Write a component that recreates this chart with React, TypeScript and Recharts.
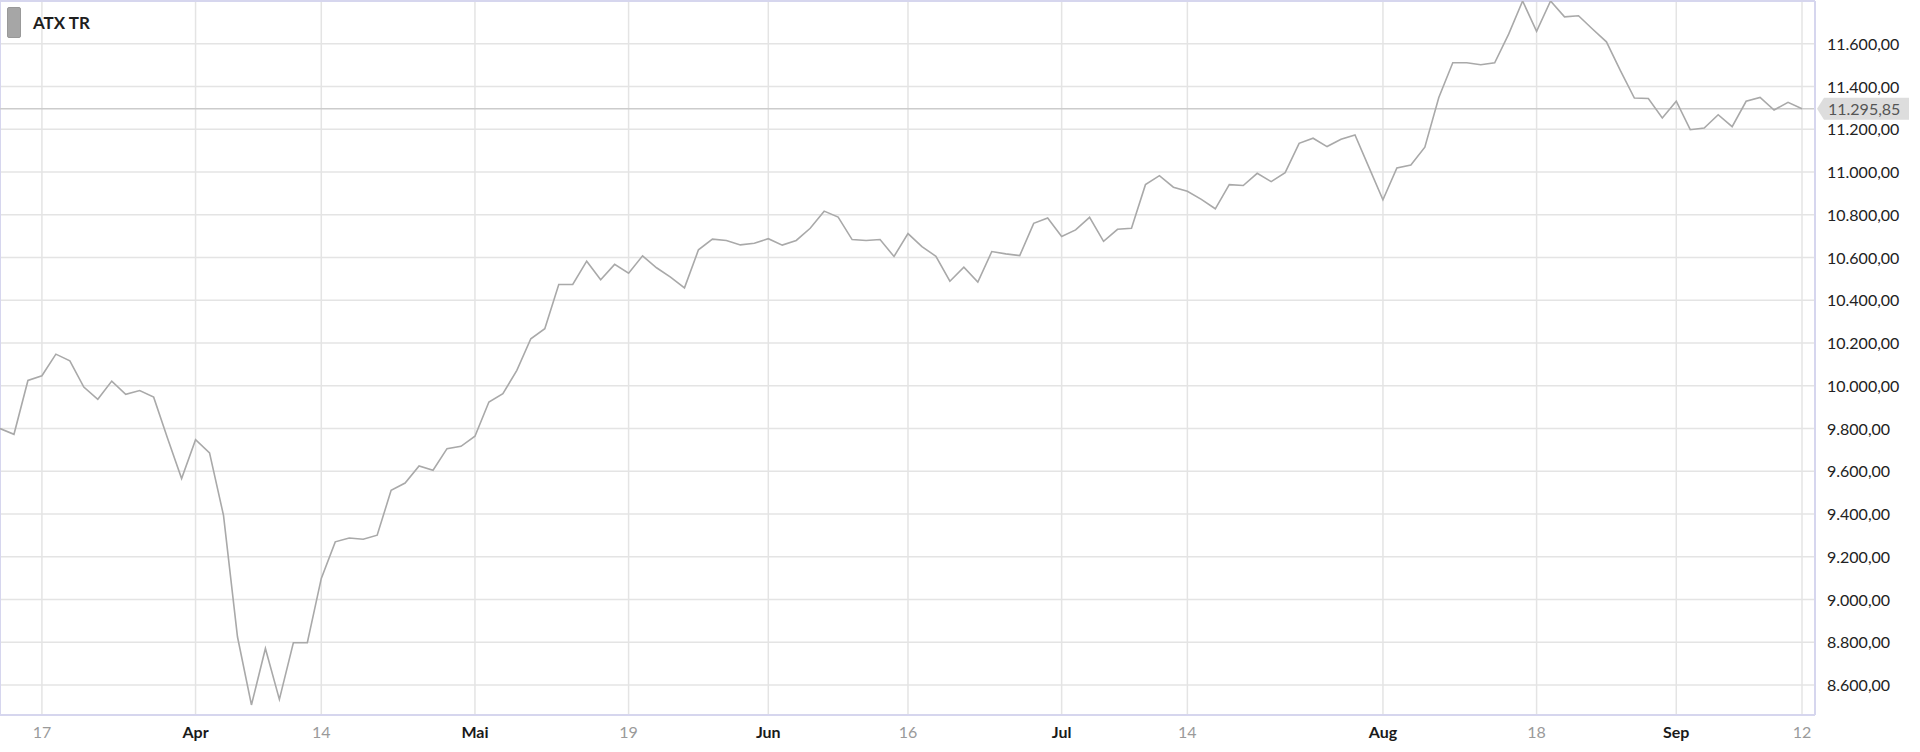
import React from 'react';
import {
  LineChart,
  Line,
  XAxis,
  YAxis,
  CartesianGrid,
  ReferenceLine,
  Legend,
} from 'recharts';

// trading days, Mar 12 – Sep 12 2025 (Vienna closed Apr 18, Apr 21, May 1)
const marDays = [12, 13, 14, 17, 18, 19, 20, 21, 24, 25, 26, 27, 28, 31];
const aprDays = [1, 2, 3, 4, 7, 8, 9, 10, 11, 14, 15, 16, 17, 22, 23, 24, 25, 28, 29, 30];
const mayDays = [2, 5, 6, 7, 8, 9, 12, 13, 14, 15, 16, 19, 20, 21, 22, 23, 26, 27, 28, 29, 30];
const junDays = [2, 3, 4, 5, 6, 9, 10, 11, 12, 13, 16, 17, 18, 19, 20, 23, 24, 25, 26, 27, 30];
const julDays = [1, 2, 3, 4, 7, 8, 9, 10, 11, 14, 15, 16, 17, 18, 21, 22, 23, 24, 25, 28, 29, 30, 31];
const augDays = [1, 4, 5, 6, 7, 8, 11, 12, 13, 14, 15, 18, 19, 20, 21, 22, 25, 26, 27, 28, 29];
const sepDays = [1, 2, 3, 4, 5, 8, 9, 10, 11, 12];

const atxTr = [
  9800, 9773, 10025, 10047, 10148, 10117, 9994, 9937, 10022, 9960,
  9978, 9947, 9753, 9566, 9748, 9686, 9394, 8826, 8507, 8771,
  8533, 8798, 8798, 9099, 9270, 9288, 9282, 9301, 9511, 9545,
  9625, 9605, 9706, 9717, 9764, 9924, 9963, 10072, 10220, 10267,
  10474, 10474, 10583, 10496, 10568, 10527, 10608, 10552, 10508, 10458,
  10636, 10686, 10680, 10659, 10667, 10688, 10658, 10680, 10737, 10817,
  10789, 10684, 10680, 10684, 10605, 10712, 10651, 10606, 10489, 10555,
  10485, 10628, 10617, 10609, 10760, 10785, 10698, 10729, 10788, 10676,
  10732, 10737, 10941, 10983, 10929, 10910, 10872, 10828, 10941, 10937,
  10994, 10955, 10997, 11134, 11158, 11119, 11153, 11173, 11022, 10870,
  11019, 11033, 11116, 11349, 11511, 11511, 11502, 11511, 11645, 11800,
  11658, 11800, 11726, 11731, 11669, 11609, 11474, 11346, 11344, 11253,
  11331, 11198, 11206, 11268, 11212, 11331, 11349, 11290, 11326, 11295.85,
];

const xTicks = [
  '2025-03-17', '2025-04-01', '2025-04-14', '2025-05-02', '2025-05-19', '2025-06-02', '2025-06-16',
  '2025-07-01', '2025-07-14', '2025-08-01', '2025-08-18', '2025-09-01', '2025-09-12',
];
const xTickLabels = ['17', 'Apr', '14', 'Mai', '19', 'Jun', '16', 'Jul', '14', 'Aug', '18', 'Sep', '12'];

const yTicks = [
  8600, 8800, 9000, 9200, 9400, 9600, 9800, 10000, 10200, 10400, 10600, 10800, 11000, 11200,
  11400, 11600,
];

const yDomain = [8460, 11800];
const seriesName = 'ATX TR';

const pad = (n: number) => String(n).padStart(2, '0');
const monthDays: [number, number[]][] = [
  [3, marDays], [4, aprDays], [5, mayDays], [6, junDays], [7, julDays], [8, augDays], [9, sepDays],
];
const dates = monthDays.flatMap(([m, days]) => days.map((d) => `2025-${pad(m)}-${pad(d)}`));
const data = dates.map((date, i) => ({ date, value: atxTr[i] }));
const lastValue = atxTr[atxTr.length - 1];

function fmtDe(v: number): string {
  const [int, dec] = v.toFixed(2).split('.');
  return int.replace(/\B(?=(\d{3})+(?!\d))/g, '.') + ',' + dec;
}

const FONT = 'Lato, "Open Sans", sans-serif';
const BORDER = '#d6d6ee';
const GRID = '#e4e4e4';

function XTick({ x, y, payload }: any) {
  const idx = xTicks.indexOf(payload.value);
  const label = idx >= 0 ? xTickLabels[idx] : '';
  const isMonth = isNaN(Number(label));
  return (
    <text
      x={x}
      y={y}
      dy={15}
      textAnchor="middle"
      fontFamily={FONT}
      fontSize={16}
      fontWeight={isMonth ? 700 : 400}
      fill={isMonth ? '#1a1a1a' : '#9a9a9a'}
    >
      {label}
    </text>
  );
}

function YTick({ x, y, payload }: any) {
  return (
    <text x={x + 4} y={y} dy={6} textAnchor="start" fontFamily={FONT} fontSize={16} fill="#222">
      {fmtDe(payload.value)}
    </text>
  );
}

function PriceTag(props: any) {
  const vb = props.viewBox || {};
  const y = vb.y;
  const left = vb.x + vb.width + 2;
  const h = 22;
  const path = `M${left},${y} L${left + 7},${y - h / 2} L${left + 92},${y - h / 2} L${left + 92},${y + h / 2} L${left + 7},${y + h / 2} Z`;
  return (
    <g>
      <path d={path} fill="#dddddd" />
      <text x={left + 11} y={y} dy={6} fontFamily={FONT} fontSize={16} fill="#555">
        {fmtDe(lastValue)}
      </text>
    </g>
  );
}

function LegendBox() {
  return (
    <div style={{ display: 'flex', alignItems: 'center', fontFamily: FONT }}>
      <div
        style={{
          width: 14,
          height: 31,
          background: '#a6a6a6',
          border: '1px solid #999',
          boxSizing: 'border-box',
          borderRadius: 2,
        }}
      />
      <span style={{ marginLeft: 12, fontSize: 17, fontWeight: 700, color: '#1e1e1e' }}>
        {seriesName}
      </span>
    </div>
  );
}

export default function App() {
  return (
    <div style={{ position: 'absolute', left: 0, top: 0, width: 1920, height: 752, background: '#fff' }}>
      <LineChart width={1920} height={752} data={data} margin={{ top: 1, right: 0, bottom: 0, left: 0 }}>
        <CartesianGrid stroke={GRID} strokeWidth={1.5} />
        <XAxis
          dataKey="date"
          ticks={xTicks}
          interval={0}
          tick={<XTick />}
          tickLine={false}
          axisLine={{ stroke: BORDER, strokeWidth: 2 }}
          height={37}
          padding={{ left: 0, right: 13 }}
        />
        <YAxis
          orientation="right"
          domain={yDomain}
          ticks={yTicks}
          allowDataOverflow
          tick={<YTick />}
          tickLine={false}
          axisLine={{ stroke: BORDER, strokeWidth: 2 }}
          width={105}
        />
        <ReferenceLine y={yDomain[1]} stroke={BORDER} strokeWidth={2} />
        <ReferenceLine x={dates[0]} stroke={BORDER} strokeWidth={2} />
        <ReferenceLine y={lastValue} stroke="#cccccc" strokeWidth={1.5} label={<PriceTag />} />
        <Legend
          layout="horizontal"
          verticalAlign="middle"
          align="center"
          wrapperStyle={{ top: 7, left: 7, width: 'auto' }}
          content={() => <LegendBox />}
        />
        <Line
          type="linear"
          dataKey="value"
          name={seriesName}
          stroke="#a9a9a9"
          strokeWidth={1.6}
          dot={false}
          activeDot={false}
          isAnimationActive={false}
        />
      </LineChart>
    </div>
  );
}
